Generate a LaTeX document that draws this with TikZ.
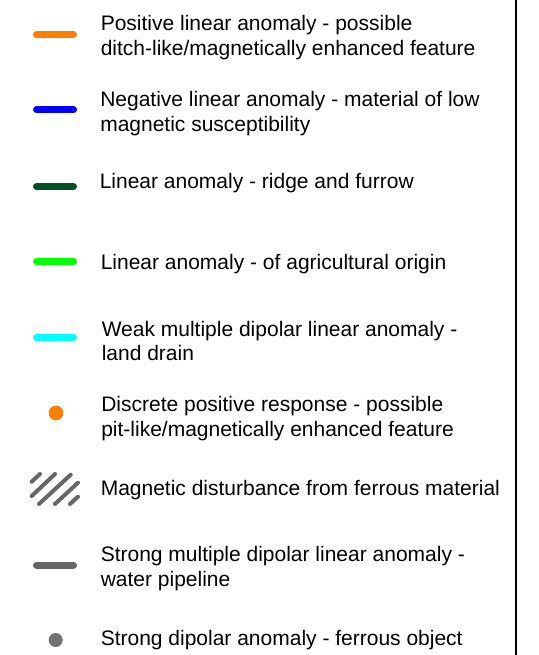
\documentclass[tikz,border=0pt]{standalone}
\usepackage{fontspec}
\setmainfont{Liberation Sans}
\definecolor{cOrange}{RGB}{255,128,0}
\definecolor{cBlue}{RGB}{0,0,255}
\definecolor{cDkGreen}{RGB}{0,80,40}
\definecolor{cGreen}{RGB}{0,255,0}
\definecolor{cCyan}{RGB}{0,255,255}
\definecolor{cGray}{RGB}{102,102,102}
\definecolor{cDot}{RGB}{115,115,115}
\newcommand{\twoln}[2]{\vtop{\baselineskip=18.4pt\lineskiplimit=0pt\hbox{#1}\hbox{#2}}}
\tikzset{
  lbl/.style={anchor=base west, inner sep=0pt, font=\fontsize{15.75pt}{18.4pt}\selectfont},
  legline/.style={line width=5.25pt, line cap=round},
  hatchline/.style={line width=3pt, line cap=round, draw=cGray},
}
\begin{document}
\begin{tikzpicture}[x=0.75pt, y=-0.75pt]
\useasboundingbox (0,0) rectangle (538,655);
% frame line at right
\coordinate (ftop) at (516,0);
\coordinate (fbot) at (516,655);
\draw[line width=1.5pt] (ftop) -- (fbot);

% 1 orange
\coordinate (a1) at (36.5,35); \coordinate (b1) at (73.5,35);
\draw[legline, draw=cOrange] (a1) -- (b1);
\node[lbl] (t1) at (100.5,30.5) {\twoln{Positive linear anomaly - possible}{ditch-like/magnetically enhanced feature}};

% 2 blue
\coordinate (a2) at (36.5,110); \coordinate (b2) at (73.5,110);
\draw[legline, draw=cBlue] (a2) -- (b2);
\node[lbl] (t2) at (100,106.7) {\twoln{Negative linear anomaly - material of low}{magnetic susceptibility}};

% 3 dark green
\coordinate (a3) at (36.5,186.5); \coordinate (b3) at (73.5,186.5);
\draw[legline, draw=cDkGreen] (a3) -- (b3);
\node[lbl] (t3) at (99.5,188.3) {Linear anomaly - ridge and furrow};

% 4 green
\coordinate (a4) at (36.5,261.7); \coordinate (b4) at (73.5,261.7);
\draw[legline, draw=cGreen] (a4) -- (b4);
\node[lbl] (t4) at (100.5,270) {Linear anomaly - of agricultural origin};

% 5 cyan
\coordinate (a5) at (36.5,337.7); \coordinate (b5) at (73.5,337.7);
\draw[legline, draw=cCyan] (a5) -- (b5);
\node[lbl] (t5) at (101.5,336) {\twoln{Weak multiple dipolar linear anomaly -}{land drain}};

% 6 orange dot
\node[circle, fill=cOrange, minimum size=11pt, inner sep=0pt] (d6) at (56,413) {};
\node[lbl] (t6) at (101,411.7) {\twoln{Discrete positive response - possible}{pit-like/magnetically enhanced feature}};

% 7 hatch
\coordinate (h1a) at (31.7,481.7); \coordinate (h1b) at (40,474);
\coordinate (h2a) at (31.7,496);   \coordinate (h2b) at (55,474);
\coordinate (h3a) at (39,504);     \coordinate (h3b) at (70.7,474.7);
\coordinate (h4a) at (55,504);     \coordinate (h4b) at (78,482.7);
\coordinate (h5a) at (70,504);     \coordinate (h5b) at (78,496.7);
\draw[hatchline] (h1a) -- (h1b);
\draw[hatchline] (h2a) -- (h2b);
\draw[hatchline] (h3a) -- (h3b);
\draw[hatchline] (h4a) -- (h4b);
\draw[hatchline] (h5a) -- (h5b);
\node[lbl] (t7) at (100.5,495) {Magnetic disturbance from ferrous material};

% 8 gray line
\coordinate (a8) at (36.5,565); \coordinate (b8) at (73.5,565);
\draw[legline, draw=cGray] (a8) -- (b8);
\node[lbl] (t8) at (100.5,561.7) {\twoln{Strong multiple dipolar linear anomaly -}{water pipeline}};

% 9 gray dot
\node[circle, fill=cDot, minimum size=10.5pt, inner sep=0pt] (d9) at (55.7,640) {};
\node[lbl] (t9) at (100.5,645) {Strong dipolar anomaly - ferrous object};
\end{tikzpicture}
\end{document}
